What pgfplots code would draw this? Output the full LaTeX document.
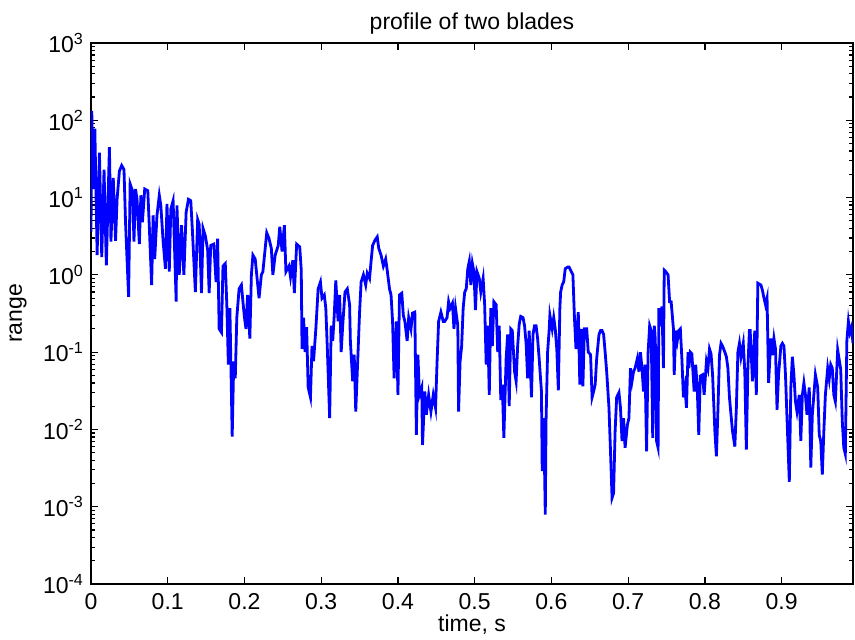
\documentclass[border=0pt]{standalone}
\usepackage{pgfplots}
\pgfplotsset{compat=1.18}
\usepackage{pgfplotstable}
\usepackage{fontspec}
\setmainfont{Liberation Sans}
\pgfplotstableread{
x y
0.000 3.6
0.001 132
0.003 12.9
0.005 78
0.008 1.8
0.011 38
0.014 1.7
0.017 23
0.020 1.33
0.024 45
0.026 2.7
0.029 18
0.032 2.75
0.034 9.5
0.037 22
0.040 26
0.043 23
0.045 4.8
0.049 0.52
0.051 15
0.054 12.3
0.056 2.7
0.058 12.9
0.060 9.5
0.063 2.5
0.065 10.7
0.067 4.8
0.070 12.9
0.074 12.3
0.076 4.2
0.079 0.74
0.081 5.9
0.083 1.6
0.086 5.9
0.089 10.7
0.091 7.9
0.094 2.7
0.097 1.2
0.099 8.3
0.102 1.1
0.104 7.1
0.107 9.1
0.111 0.45
0.112 7.9
0.115 1.0
0.118 4.4
0.121 1.0
0.124 6.5
0.127 9.5
0.130 9.1
0.132 4.0
0.136 0.60
0.139 5.2
0.141 4.5
0.144 0.58
0.146 4.0
0.149 3.2
0.152 2.1
0.154 0.58
0.156 2.4
0.160 2.5
0.163 0.81
0.165 2.95
0.167 0.20
0.170 0.18
0.172 1.3
0.175 1.4
0.177 0.41
0.179 0.069
0.181 0.37
0.184 0.0081
0.186 0.076
0.188 0.046
0.190 0.28
0.193 0.66
0.196 0.74
0.198 0.45
0.200 0.28
0.202 0.20
0.204 0.55
0.207 0.15
0.209 1.0
0.211 1.8
0.214 1.6
0.216 1.0
0.219 0.50
0.222 1.0
0.224 1.1
0.229 3.5
0.232 2.95
0.235 2.2
0.237 1.0
0.240 1.8
0.244 2.4
0.246 4.2
0.249 2.0
0.252 4.4
0.254 1.1
0.258 1.3
0.260 0.94
0.263 1.55
0.265 0.58
0.268 2.5
0.272 2.3
0.274 1.15
0.275 0.11
0.277 0.28
0.279 0.10
0.281 0.21
0.283 0.035
0.286 0.026
0.288 0.12
0.290 0.076
0.293 0.20
0.296 0.66
0.299 0.81
0.301 0.50
0.304 0.55
0.306 0.37
0.308 0.11
0.311 0.014
0.313 0.22
0.315 0.14
0.317 0.30
0.319 0.85
0.322 0.25
0.324 0.55
0.326 0.10
0.328 0.22
0.331 0.60
0.334 0.66
0.337 0.41
0.338 0.14
0.341 0.042
0.343 0.093
0.345 0.017
0.348 0.10
0.350 0.33
0.352 0.81
0.355 1.0
0.358 0.74
0.360 1.05
0.363 0.9
0.365 1.5
0.367 2.4
0.370 2.8
0.373 3.1
0.375 2.2
0.378 1.8
0.381 1.3
0.384 1.6
0.386 1.15
0.389 0.66
0.391 0.55
0.393 0.25
0.395 0.046
0.398 0.25
0.400 0.028
0.402 0.55
0.405 0.58
0.407 0.30
0.409 0.25
0.412 0.14
0.414 0.28
0.417 0.20
0.419 0.32
0.422 0.33
0.424 0.0085
0.426 0.093
0.428 0.028
0.431 0.035
0.432 0.0063
0.435 0.031
0.437 0.0155
0.440 0.028
0.443 0.017
0.446 0.028
0.449 0.019
0.451 0.076
0.453 0.25
0.456 0.33
0.459 0.25
0.461 0.25
0.464 0.28
0.466 0.45
0.468 0.37
0.471 0.43
0.473 0.20
0.475 0.37
0.478 0.22
0.479 0.017
0.481 0.076
0.483 0.12
0.485 0.37
0.487 0.60
0.489 0.66
0.491 1.2
0.493 1.5
0.495 0.74
0.497 1.4
0.499 1.1
0.501 0.35
0.503 1.1
0.506 0.9
0.508 0.60
0.511 0.9
0.513 0.41
0.515 0.069
0.517 0.22
0.519 0.028
0.521 0.37
0.523 0.12
0.525 0.45
0.528 0.41
0.530 0.10
0.532 0.22
0.534 0.024
0.536 0.038
0.538 0.0078
0.541 0.083
0.543 0.17
0.545 0.020
0.547 0.20
0.549 0.19
0.552 0.056
0.554 0.042
0.556 0.12
0.558 0.23
0.560 0.29
0.563 0.28
0.565 0.22
0.567 0.13
0.569 0.046
0.571 0.19
0.574 0.026
0.576 0.17
0.578 0.22
0.580 0.22
0.582 0.15
0.584 0.083
0.587 0.031
0.588 0.0029
0.590 0.014
0.592 0.00079
0.593 0.013
0.595 0.10
0.597 0.19
0.598 0.30
0.601 0.20
0.603 0.28
0.605 0.20
0.607 0.11
0.609 0.032
0.611 0.37
0.612 0.60
0.614 0.74
0.616 0.81
0.618 1.2
0.621 1.26
0.623 1.26
0.626 1.1
0.628 1.0
0.630 0.28
0.632 0.11
0.635 0.33
0.637 0.038
0.639 0.20
0.641 0.036
0.643 0.20
0.646 0.20
0.648 0.10
0.651 0.093
0.653 0.026
0.655 0.031
0.657 0.038
0.659 0.083
0.662 0.17
0.664 0.19
0.666 0.19
0.668 0.17
0.670 0.10
0.672 0.056
0.675 0.019
0.677 0.0052
0.679 0.0013
0.681 0.0015
0.683 0.0095
0.685 0.026
0.688 0.030
0.690 0.019
0.692 0.0071
0.694 0.014
0.696 0.0058
0.699 0.0115
0.701 0.014
0.703 0.062
0.705 0.042
0.707 0.056
0.709 0.062
0.712 0.083
0.714 0.056
0.716 0.10
0.718 0.062
0.720 0.031
0.722 0.069
0.724 0.0052
0.726 0.10
0.728 0.22
0.730 0.19
0.732 0.0078
0.734 0.22
0.735 0.17
0.736 0.087
0.737 0.0071
0.739 0.0058
0.740 0.37
0.742 0.28
0.744 0.39
0.746 0.062
0.747 1.15
0.749 1.1
0.752 1.0
0.754 0.45
0.756 0.45
0.759 0.20
0.760 0.051
0.762 0.19
0.764 0.14
0.766 0.19
0.768 0.20
0.770 0.083
0.772 0.026
0.774 0.035
0.776 0.019
0.778 0.10
0.779 0.062
0.781 0.10
0.783 0.095
0.786 0.031
0.788 0.069
0.790 0.035
0.792 0.0085
0.794 0.049
0.797 0.051
0.799 0.028
0.802 0.076
0.804 0.062
0.806 0.11
0.808 0.095
0.810 0.051
0.813 0.0095
0.815 0.0045
0.817 0.018
0.819 0.091
0.821 0.13
0.823 0.12
0.826 0.10
0.828 0.087
0.830 0.062
0.832 0.026
0.834 0.0155
0.836 0.0095
0.839 0.006
0.841 0.019
0.843 0.10
0.845 0.13
0.847 0.087
0.850 0.13
0.852 0.056
0.854 0.0055
0.856 0.062
0.858 0.19
0.859 0.19
0.862 0.042
0.865 0.19
0.867 0.028
0.869 0.78
0.873 0.74
0.875 0.63
0.877 0.50
0.879 0.41
0.881 0.50
0.883 0.040
0.886 0.15
0.888 0.091
0.890 0.15
0.892 0.11
0.894 0.018
0.896 0.051
0.899 0.12
0.901 0.13
0.903 0.12
0.905 0.051
0.907 0.014
0.910 0.0021
0.912 0.035
0.914 0.087
0.916 0.051
0.918 0.023
0.920 0.017
0.923 0.028
0.925 0.0071
0.927 0.028
0.929 0.040
0.931 0.028
0.933 0.0155
0.936 0.035
0.938 0.0032
0.940 0.0155
0.942 0.028
0.944 0.051
0.947 0.035
0.949 0.0085
0.951 0.007
0.953 0.0026
0.955 0.0095
0.957 0.028
0.960 0.062
0.962 0.045
0.964 0.069
0.966 0.062
0.968 0.028
0.970 0.023
0.973 0.107
0.975 0.08
0.977 0.06
0.979 0.013
0.981 0.0058
0.983 0.0048
0.985 0.14
0.987 0.25
0.989 0.18
0.991 0.21
0.993 0.13
}\bladedata
\begin{document}
\begin{tikzpicture}
\begin{axis}[
  scale only axis,
  width=381pt, height=270.5pt,
  ymode=log,
  xmin=0, xmax=0.993,
  ymin=1e-4, ymax=1e3,
  font=\fontsize{11.5}{13}\selectfont,
  /pgf/number format/assume math mode=true,
  xtick={0,0.1,0.2,0.3,0.4,0.5,0.6,0.7,0.8,0.9},
  xticklabels={0,0.1,0.2,0.3,0.4,0.5,0.6,0.7,0.8,0.9},
  ytick={1e-4,1e-3,1e-2,1e-1,1,1e1,1e2,1e3},
  yticklabels={10\textsuperscript{-4},10\textsuperscript{-3},10\textsuperscript{-2},10\textsuperscript{-1},10\textsuperscript{0},10\textsuperscript{1},10\textsuperscript{2},10\textsuperscript{3}},
  tick align=inside,
  major tick length=3.5pt,
  minor tick length=2pt,
  tick style={black, line width=0.6pt},
  axis line style={black, line width=0.7pt},
  title={profile of two blades},
  title style={at={(axis description cs:0.5,1)}, anchor=center, yshift=3.5pt},
  xlabel={time, s},
  xlabel style={at={(axis description cs:0.5,0)}, anchor=center, yshift=-20.5pt},
  ylabel={range},
  ylabel style={at={(axis description cs:0,0.5)}, anchor=center, yshift=36.5pt},
  xticklabel style={yshift=-1pt},
]
\addplot[color={rgb,255:red,0;green,0;blue,255}, line width=1.4pt, line join=miter, mark=none] table[x=x, y=y] {\bladedata};
\coordinate (ll) at (rel axis cs:0,0);
\end{axis}
\pgfresetboundingbox
\path[use as bounding box] ([shift={(-45.5pt,-27.5pt)}]ll) rectangle ([shift={(382pt,292pt)}]ll);
\end{tikzpicture}
\end{document}
